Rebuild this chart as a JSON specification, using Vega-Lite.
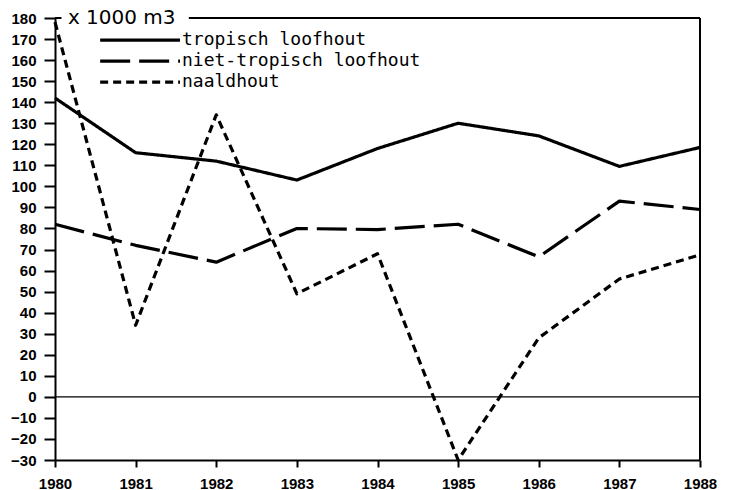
{
  "$schema": "https://vega.github.io/schema/vega-lite/v6.json",
  "width": 645,
  "height": 442,
  "autosize": {"type": "none"},
  "padding": {"left": 55, "top": 18, "right": 31, "bottom": 30},
  "background": "white",
  "config": {
    "view": {"stroke": null},
    "axis": {"grid": false, "domainColor": "black", "tickColor": "black", "domainWidth": 2, "tickWidth": 2, "labelColor": "black", "labelFont": "Liberation Sans", "labelFontWeight": "bold", "labelFontSize": 15, "labelOverlap": false, "labelFlush": false, "labelBound": false, "title": null}
  },
  "datasets": {
    "series": [
      {"year": 1980, "series": "tropisch loofhout", "value": 142},
      {"year": 1981, "series": "tropisch loofhout", "value": 116},
      {"year": 1982, "series": "tropisch loofhout", "value": 112},
      {"year": 1983, "series": "tropisch loofhout", "value": 103},
      {"year": 1984, "series": "tropisch loofhout", "value": 118},
      {"year": 1985, "series": "tropisch loofhout", "value": 130},
      {"year": 1986, "series": "tropisch loofhout", "value": 124},
      {"year": 1987, "series": "tropisch loofhout", "value": 109.5},
      {"year": 1988, "series": "tropisch loofhout", "value": 118.5},
      {"year": 1980, "series": "niet-tropisch loofhout", "value": 82},
      {"year": 1981, "series": "niet-tropisch loofhout", "value": 72},
      {"year": 1982, "series": "niet-tropisch loofhout", "value": 64},
      {"year": 1983, "series": "niet-tropisch loofhout", "value": 80},
      {"year": 1984, "series": "niet-tropisch loofhout", "value": 79.5},
      {"year": 1985, "series": "niet-tropisch loofhout", "value": 82},
      {"year": 1986, "series": "niet-tropisch loofhout", "value": 66.5},
      {"year": 1987, "series": "niet-tropisch loofhout", "value": 93},
      {"year": 1988, "series": "niet-tropisch loofhout", "value": 89},
      {"year": 1980, "series": "naaldhout", "value": 178},
      {"year": 1981, "series": "naaldhout", "value": 34},
      {"year": 1982, "series": "naaldhout", "value": 134},
      {"year": 1983, "series": "naaldhout", "value": 49},
      {"year": 1984, "series": "naaldhout", "value": 68},
      {"year": 1985, "series": "naaldhout", "value": -30},
      {"year": 1986, "series": "naaldhout", "value": 28},
      {"year": 1987, "series": "naaldhout", "value": 56},
      {"year": 1988, "series": "naaldhout", "value": 67.5}
    ],
    "legend": [
      {"series": "tropisch loofhout", "year": 1980.56, "year2": 1981.55, "value": 169.5},
      {"series": "niet-tropisch loofhout", "year": 1980.56, "year2": 1981.55, "value": 159.5},
      {"series": "naaldhout", "year": 1980.56, "year2": 1981.55, "value": 149.5}
    ],
    "frame": [
      {"year": 1980, "year2": 1980.08, "value": 180, "value2": 180, "w": "thick"},
      {"year": 1981.66, "year2": 1988, "value": 180, "value2": 180, "w": "thick"},
      {"year": 1988, "year2": 1988, "value": -30, "value2": 180, "w": "thick"},
      {"year": 1980, "year2": 1988, "value": 0, "value2": 0, "w": "thin"}
    ],
    "unit": [{"label": "x 1000 m3", "year": 1980.16, "value": 180}]
  },
  "encoding": {
    "x": {"field": "year", "type": "quantitative", "scale": {"domain": [1980, 1988], "nice": false, "zero": false}, "axis": {"values": [1980, 1981, 1982, 1983, 1984, 1985, 1986, 1987, 1988], "format": "d", "tickSize": 7, "labelPadding": 9}},
    "y": {"field": "value", "type": "quantitative", "scale": {"domain": [-30, 180], "nice": false, "zero": false}, "axis": {"values": [-30, -20, -10, 0, 10, 20, 30, 40, 50, 60, 70, 80, 90, 100, 110, 120, 130, 140, 150, 160, 170, 180], "tickSize": 11, "labelPadding": 8}}
  },
  "layer": [
    {
      "data": {"name": "frame"},
      "mark": {"type": "rule", "color": "black"},
      "encoding": {
        "x2": {"field": "year2"},
        "y2": {"field": "value2"},
        "strokeWidth": {"field": "w", "type": "nominal", "scale": {"domain": ["thick", "thin"], "range": [2, 1.2]}, "legend": null}
      }
    },
    {
      "data": {"name": "series"},
      "mark": {"type": "line", "color": "black", "strokeWidth": 3.2, "strokeCap": "butt", "strokeJoin": "round"},
      "encoding": {
        "detail": {"field": "series", "type": "nominal"},
        "strokeDash": {"field": "series", "type": "nominal", "scale": {"domain": ["tropisch loofhout", "niet-tropisch loofhout", "naaldhout"], "range": [[1, 0], [30, 9], [8, 5]]}, "legend": null}
      }
    },
    {
      "data": {"name": "legend"},
      "mark": {"type": "rule", "color": "black", "strokeWidth": 3.2, "strokeCap": "butt"},
      "encoding": {
        "x2": {"field": "year2"},
        "strokeDash": {"field": "series", "type": "nominal", "scale": {"domain": ["tropisch loofhout", "niet-tropisch loofhout", "naaldhout"], "range": [[1, 0], [30, 9], [8, 5]]}, "legend": null}
      }
    },
    {
      "data": {"name": "legend"},
      "mark": {"type": "text", "align": "left", "baseline": "middle", "font": "DejaVu Sans Mono", "fontSize": 18, "color": "black", "dx": 2},
      "encoding": {
        "x": {"field": "year2", "type": "quantitative"},
        "text": {"field": "series", "type": "nominal"}
      }
    },
    {
      "data": {"name": "unit"},
      "mark": {"type": "text", "align": "left", "baseline": "middle", "font": "DejaVu Sans", "fontSize": 20, "color": "black"},
      "encoding": {
        "text": {"field": "label", "type": "nominal"}
      }
    }
  ]
}
